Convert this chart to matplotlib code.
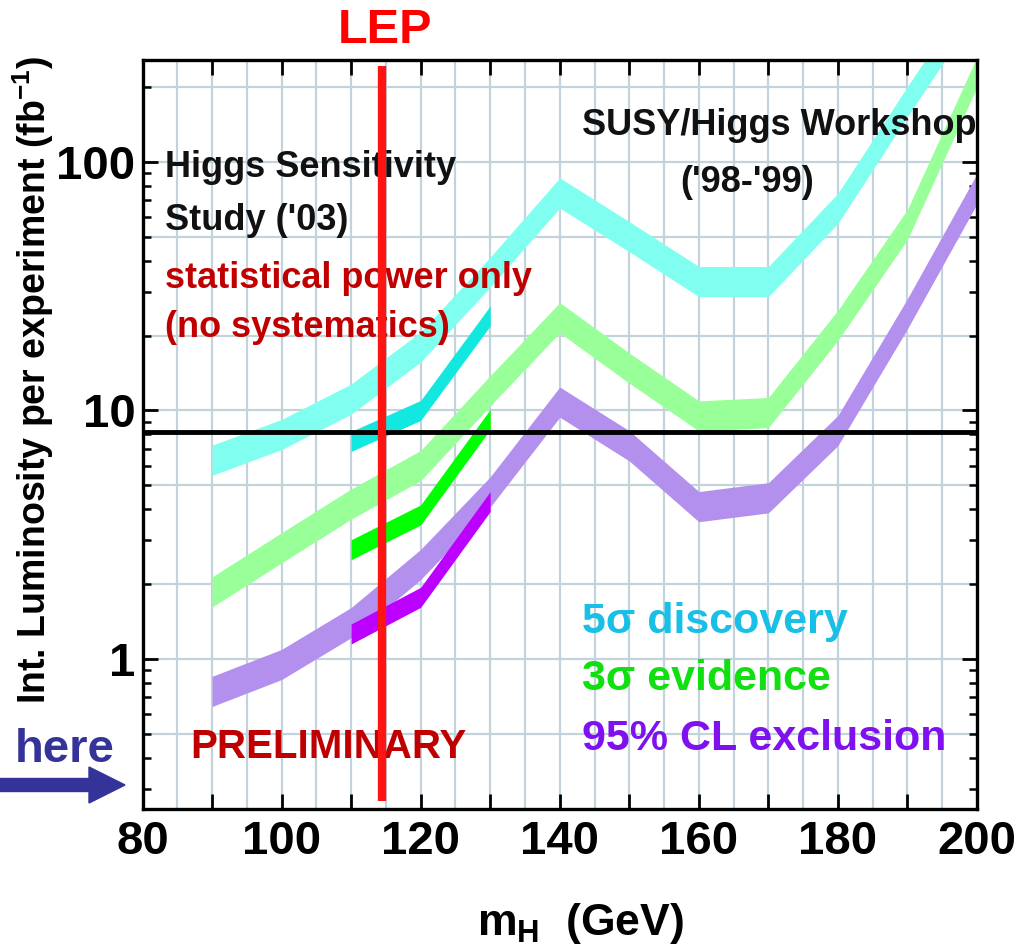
import matplotlib.pyplot as plt
from matplotlib.patches import FancyArrow
from matplotlib.ticker import FixedLocator, NullFormatter
import numpy as np

plt.rcParams['font.family'] = ['Liberation Sans', 'DejaVu Sans']
plt.rcParams['font.weight'] = 'bold'
plt.rcParams['mathtext.fontset'] = 'custom'
plt.rcParams['mathtext.bf'] = 'Liberation Sans:bold'
plt.rcParams['mathtext.rm'] = 'Liberation Sans:bold'

# SUSY/Higgs Workshop ('98-'99): luminosity needed (fb^-1) vs m_H
mass_ws = [90, 100, 110, 120, 130, 140, 150, 160, 170, 180, 190, 200]
disc_ws = [6.3, 8.0, 11.1, 18.0, 36, 75, 50, 33, 33, 65, 175, 460]
evid_ws = [1.86, 2.8, 4.2, 6.0, 12.0, 23.6, 14.8, 9.5, 9.8, 22, 56, 230]
excl_ws = [0.74, 0.95, 1.40, 2.4, 4.7, 10.8, 7.2, 4.1, 4.45, 8.3, 24.5, 78]

# Higgs Sensitivity Study ('03)
mass_hs = [110, 120, 130]
disc_hs = [7.5, 10.0, 24]
evid_hs = [2.75, 3.8, 9.2]
excl_hs = [1.26, 1.77, 4.3]

lep_limit = 114.4
lumi_here = 8.2

W, H = 1036, 949


def fpos(x, y):
    # pixel position -> figure fraction
    return x / W, 1 - y / H


def band(ax, m, v, half, color, z):
    v = np.asarray(v, dtype=float)
    ax.fill_between(m, v / half, v * half, color=color, lw=0, zorder=z)


fig = plt.figure(figsize=(W / 100, H / 100), dpi=100)
ax = fig.add_axes([142.5 / W, 140 / H, 834.5 / W, 749 / H])
ax.set_yscale('log')
ax.set_xlim(80, 200)
ax.set_ylim(0.249, 257)

# grid
for x in np.arange(85, 200, 5):
    ax.axvline(x, color='#c3d3db', lw=1.6, zorder=0)
for y in [0.5, 1, 2, 5, 10, 20, 50, 100, 200]:
    ax.axhline(y, color='#c3d3db', lw=1.6, zorder=0)

# workshop bands
band(ax, mass_ws, disc_ws, 1.15, '#80fff0', 2)
band(ax, mass_ws, evid_ws, 1.15, '#99ff99', 2)
band(ax, mass_ws, excl_ws, 1.15, '#b490ee', 2)

# 2003 study
band(ax, mass_hs, disc_hs, 1.097, '#12e8e0', 3)
band(ax, mass_hs, evid_hs, 1.097, '#00ff00', 3)
band(ax, mass_hs, excl_hs, 1.097, '#bb00ff', 3)

ax.axhline(lumi_here, color='black', lw=3.5, zorder=8)
ax.axvline(lep_limit, ymin=0.011, ymax=0.992, color='#ff1414', lw=6,
           solid_capstyle='butt', zorder=10)

# axes / ticks
for s in ax.spines.values():
    s.set_linewidth(2.4)
ax.set_xticks(range(80, 201, 10))
ax.set_xticklabels([str(v) if v % 20 == 0 else '' for v in range(80, 201, 10)])
ax.set_yticks([1, 10, 100])
ax.set_yticklabels(['1', '10', '100'])
minor_y = [m * 10.0 ** e for e in range(-1, 3) for m in range(2, 10)]
ax.yaxis.set_minor_locator(FixedLocator(minor_y))
ax.yaxis.set_minor_formatter(NullFormatter())
ax.xaxis.set_minor_locator(FixedLocator([]))
ax.tick_params(which='major', direction='in', length=11, width=2,
               top=True, right=True, labelsize=34)
ax.tick_params(which='minor', direction='in', length=6, width=1.8,
               top=True, right=True)
ax.tick_params(axis='x', pad=8)
ax.tick_params(axis='y', pad=5)

fig.text(*fpos(33, 380), 'Int. Luminosity per experiment (fb$^{\\mathbf{-1}}$)',
         rotation=90, fontsize=27, ha='center', va='center')
fig.text(*fpos(580, 935), r'm$_{\mathbf{H}}$  (GeV)', fontsize=32,
         ha='center', va='baseline')

fig.text(*fpos(385, 43), 'LEP', color='#ff0000', fontsize=35,
         ha='center', va='baseline')
fig.text(*fpos(15, 762), 'here', color='#333399', fontsize=34,
         ha='left', va='baseline')
fig.add_artist(FancyArrow(0, (H - 785) / 100, 1.25, 0, width=0.13,
                          head_width=0.36, head_length=0.36,
                          length_includes_head=True, color='#333399',
                          transform=fig.dpi_scale_trans))

# annotations inside the frame (under the LEP line)
notes = [
    (165, 177, 'Higgs Sensitivity', '#111111', 26, 'left'),
    (165, 230, "Study ('03)", '#111111', 26, 'left'),
    (165, 288, 'statistical power only', '#c00000', 26, 'left'),
    (165, 337, '(no systematics)', '#c00000', 26, 'left'),
    (582, 135, 'SUSY/Higgs Workshop', '#111111', 26, 'left'),
    (747, 192, "('98-'99)", '#111111', 26, 'center'),
    (190, 758, 'PRELIMINARY', '#c00000', 29, 'left'),
    (582, 633, '5σ discovery', '#18bfe6', 31, 'left'),
    (582, 690, '3σ evidence', '#10e010', 31, 'left'),
    (582, 750, '95% CL exclusion', '#7f10f0', 31, 'left'),
]
for x, y, s, c, fs, ha in notes:
    ax.text(*fpos(x, y), s, color=c, fontsize=fs, ha=ha, va='baseline',
            transform=fig.transFigure, zorder=5)

fig.savefig('out.png', dpi=100, facecolor='white')
